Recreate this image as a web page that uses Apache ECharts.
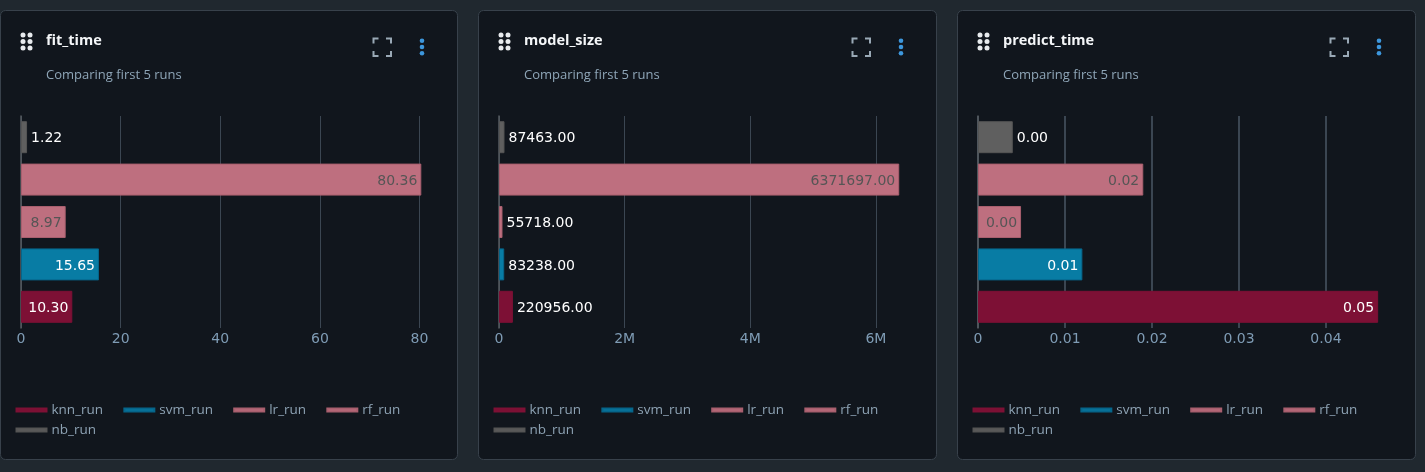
<!DOCTYPE html>
<html><head><meta charset="utf-8">
<style>html,body{margin:0;padding:0;background:#20282f}#c{width:1425px;height:472px}</style>
<script src="https://cdn.jsdelivr.net/npm/echarts@6/dist/echarts.min.js"></script>
</head><body><div id="c"></div>
<script>
const runs = ['knn_run','svm_run','lr_run','rf_run','nb_run'];
const fitTime = [10.30,15.65,8.97,80.36,1.22];
const modelSize = [220956,83238,55718,6371697,87463];
const predictTime = [0.046,0.012,0.00495,0.019,0.004];
const metrics = ['fit_time','model_size','predict_time'];
const subtitle = 'Comparing first 5 runs';
const colors = ['#7d1035','#087ca4','#be6f7f','#be6f7f','#5f5f5f'];
const borders = ['#7d1035','#06658a','#a85f6e','#a85f6e','#555555'];
const labelColors = ['#ffffff','#ffffff','#555555','#555555','#ffffff'];

const panels = [
 {x:1,  w:457,  ix:0, values:fitTime,     max:81,      interval:20,    inside:[1,1,1,1,0], fmt:v=>String(v), gridW:1, left:21, width:403.5},
 {x:479,w:458,  ix:1, values:modelSize,   max:6400000, interval:2000000,inside:[0,0,0,1,0], fmt:v=>v===0?'0':(v/1e6)+'M', gridW:1, left:499, width:402},
 {x:958,w:458,  ix:0, values:predictTime, max:0.0465,  interval:0.01,  inside:[1,1,1,1,0], fmt:v=>v===0?'0':v.toFixed(2), gridW:2, left:978, width:404.5}
];
const sans = '"Open Sans","Noto Sans",sans-serif';
const dv = '"DejaVu Sans",sans-serif';
const grid=[],xAxis=[],yAxis=[],legend=[],series=[],graphic=[];

panels.forEach((p,i)=>{
  const px=p.x;
  graphic.push({type:'rect',z:-10,silent:true,shape:{x:px-0.5,y:10.5,width:p.w,height:449,r:5},style:{fill:'#11161d',stroke:'#38414b',lineWidth:1}});
  graphic.push({type:'text',z:5,style:{x:px+45,y:33,text:metrics[i],fill:'#f4f6f8',font:'700 14.5px '+sans}});
  graphic.push({type:'text',z:5,style:{x:px+45,y:69,text:subtitle,fill:'#8fa6b8',font:'13px '+sans}});
  // drag handle dots
  [35,41.5,48].forEach(cy=>[22,29].forEach(dx=>{
    graphic.push({type:'circle',silent:true,shape:{cx:px+dx,cy:cy,r:2.5},style:{fill:'#e8ebee'}});
  }));
  // fullscreen icon corners
  const fx=px+372.5+p.ix, fy=38.5, s=17.5, c=5;
  const stroke={stroke:'#9aa9b6',lineWidth:2,fill:'none'};
  graphic.push({type:'polyline',silent:true,shape:{points:[[fx,fy+c],[fx,fy],[fx+c,fy]]},style:stroke});
  graphic.push({type:'polyline',silent:true,shape:{points:[[fx+s-c,fy],[fx+s,fy],[fx+s,fy+c]]},style:stroke});
  graphic.push({type:'polyline',silent:true,shape:{points:[[fx,fy+s-c],[fx,fy+s],[fx+c,fy+s]]},style:stroke});
  graphic.push({type:'polyline',silent:true,shape:{points:[[fx+s-c,fy+s],[fx+s,fy+s],[fx+s,fy+s-c]]},style:stroke});
  // kebab menu
  [40.7,47,53.3].forEach(cy=>graphic.push({type:'circle',silent:true,shape:{cx:px+421+p.ix,cy:cy,r:2.3},style:{fill:'#3d97dd'}}));

  grid.push({left:p.left,top:116,width:p.width,height:212,containLabel:false});
  xAxis.push({type:'value',gridIndex:i,min:0,max:p.max,interval:p.interval,
    axisLine:{show:false},axisTick:{show:false},
    splitLine:{show:true,showMaxLine:false,lineStyle:{color:'#3b4652',width:p.gridW}},
    axisLabel:{show:true,showMaxLabel:false,color:'#7f9cb5',fontFamily:dv,fontSize:14,margin:4,formatter:p.fmt}});
  yAxis.push({type:'category',gridIndex:i,data:runs,
    axisLine:{show:true,lineStyle:{color:'#565b60',width:1.5}},axisTick:{show:false},axisLabel:{show:false},splitLine:{show:false}});
  const legendBase={show:true,left:px+14.5,width:420,itemWidth:30,itemHeight:3,itemGap:20.2,icon:'rect',
    padding:0,orient:'horizontal',selectedMode:false,
    textStyle:{color:'#8ea3b4',fontFamily:sans,fontSize:13.5,lineHeight:16}};
  legend.push(Object.assign({},legendBase,{top:402,data:runs.slice(0,4)}));
  legend.push(Object.assign({},legendBase,{top:422,data:runs.slice(4)}));
  runs.forEach((r,k)=>{
    const data=runs.map((_,j)=>j===k?p.values[j]:null);
    const inside=p.inside[k];
    series.push({type:'bar',name:r,xAxisIndex:i,yAxisIndex:i,data,barWidth:32,barGap:'-100%',
      itemStyle:{color:colors[k],borderColor:borders[k],borderWidth:1},
      emphasis:{disabled:true},animation:false,
      label:{show:true,position:inside?'insideRight':'right',distance:4,offset:[0,1.5],
        color:inside?labelColors[k]:'#ffffff',fontFamily:dv,fontSize:14,
        formatter:o=>o.value==null?'':Number(o.value).toFixed(2)}});
  });
});

const chart=echarts.init(document.getElementById('c'),null,{renderer:'canvas'});
chart.setOption({animation:false,backgroundColor:'#20282f',grid,xAxis,yAxis,legend,series,graphic:{elements:graphic},tooltip:{show:false}});
</script></body></html>
